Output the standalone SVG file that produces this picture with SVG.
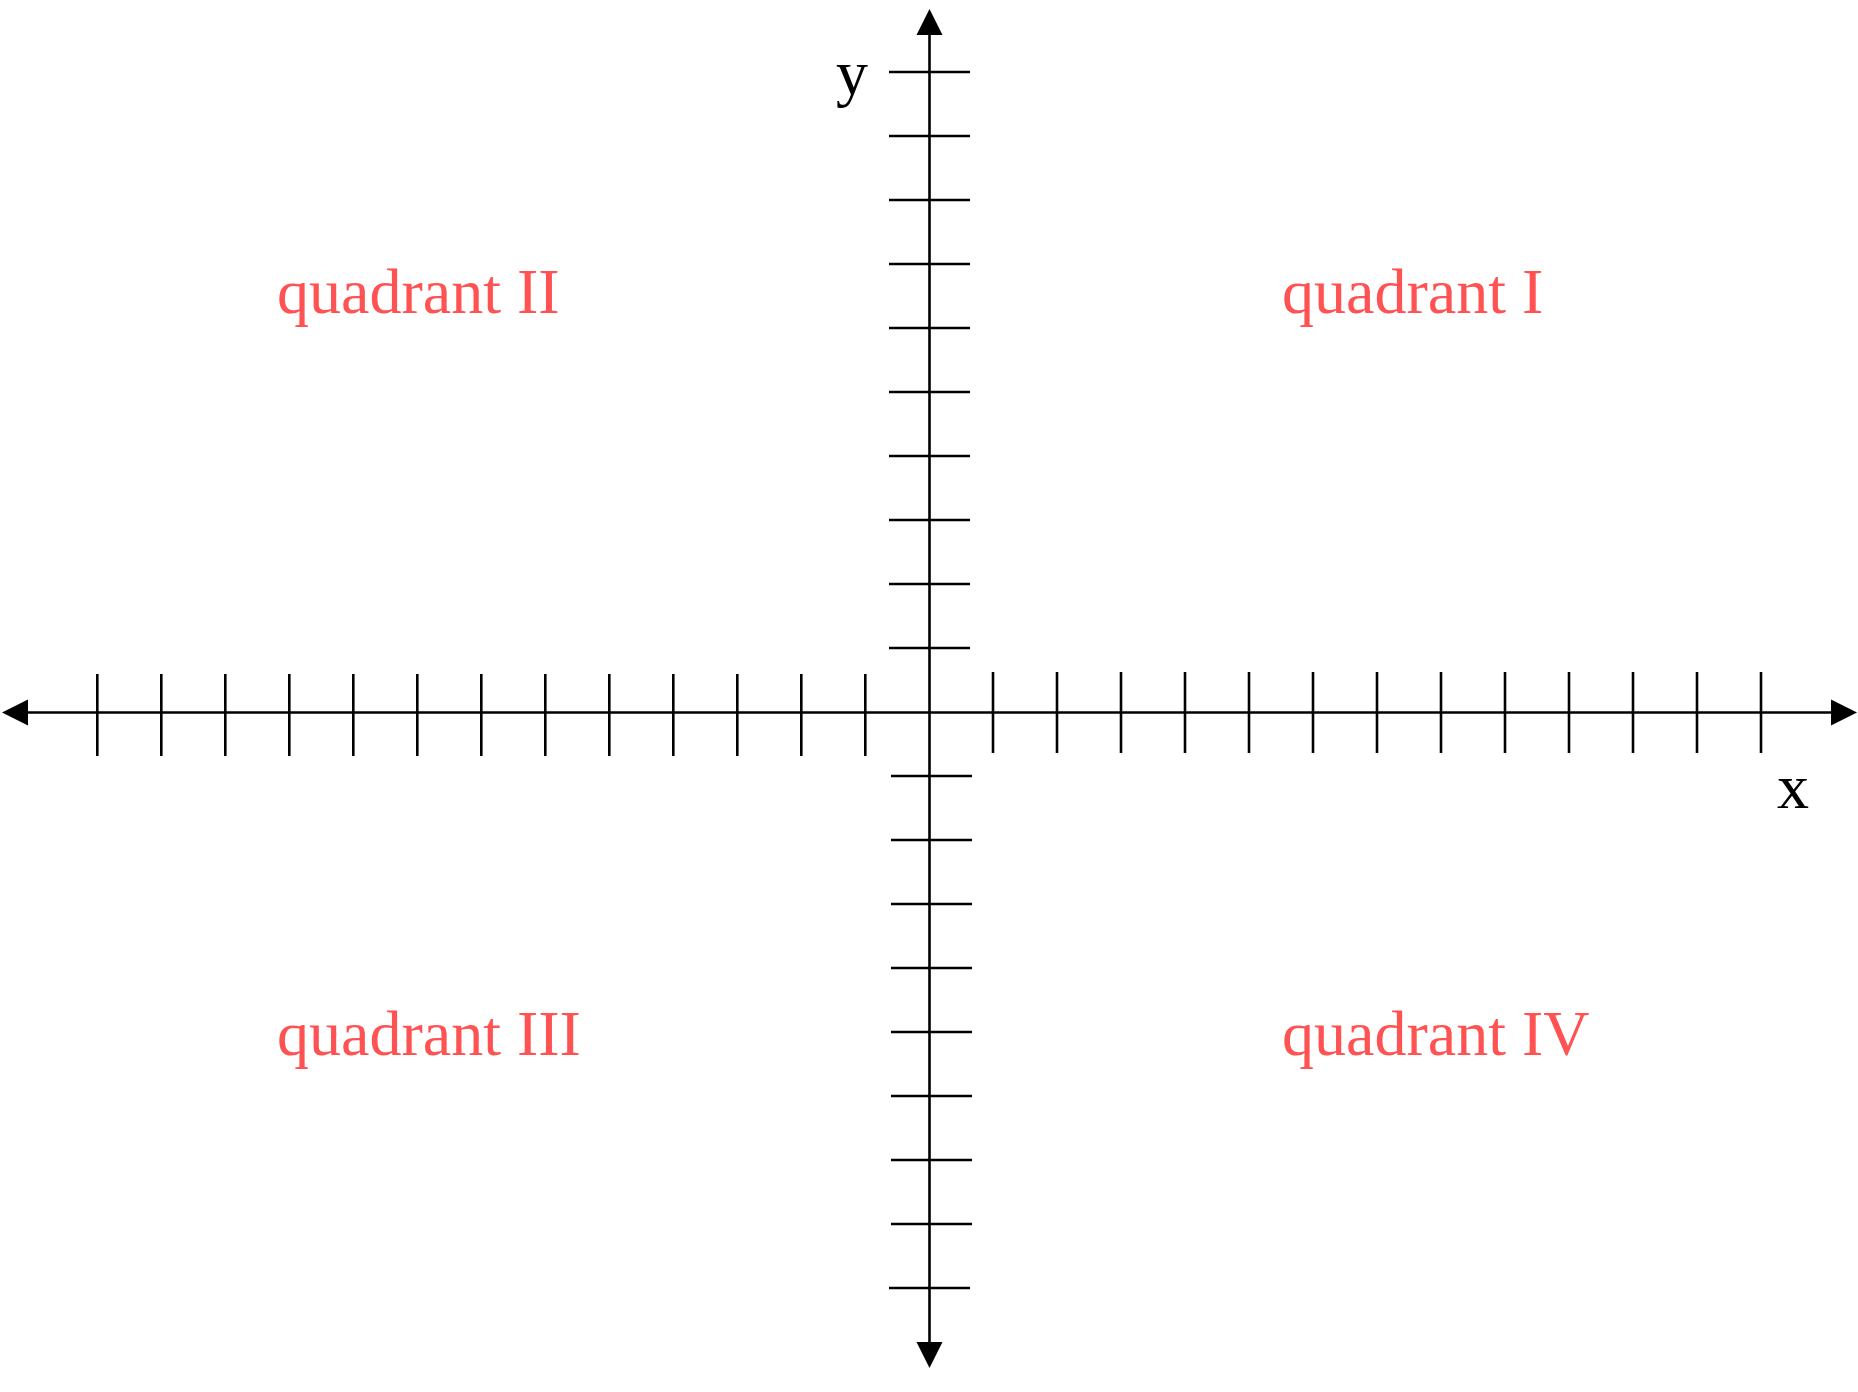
<svg xmlns="http://www.w3.org/2000/svg" width="1858" height="1392" viewBox="0 0 1858 1392">
<style>
.ax{stroke:#000;stroke-width:2.6;fill:none}
.tk{stroke:#000;stroke-width:2.6}
.q{font-family:"Liberation Serif","Times New Roman",serif;font-size:64px;fill:#ff5252}
.lbl{font-family:"Liberation Serif","Times New Roman",serif;font-size:64px;fill:#000}
</style>
<rect width="1858" height="1392" fill="#fff"/>
<g id="axes">
<line class="ax" x1="26" y1="712.5" x2="1833" y2="712.5"/>
<line class="ax" x1="929.5" y1="33" x2="929.5" y2="1345"/>
<polygon points="2,712.5 28,699.5 28,725.5" fill="#000"/>
<polygon points="1857,712.5 1831,699.5 1831,725.5" fill="#000"/>
<polygon points="929.5,9 916.5,35 942.5,35" fill="#000"/>
<polygon points="929.5,1368 916.5,1342 942.5,1342" fill="#000"/>
</g>
<g id="xticks-neg">
<line class="tk" x1="97.3" y1="674" x2="97.3" y2="756"/>
<line class="tk" x1="161.3" y1="674" x2="161.3" y2="756"/>
<line class="tk" x1="225.3" y1="674" x2="225.3" y2="756"/>
<line class="tk" x1="289.3" y1="674" x2="289.3" y2="756"/>
<line class="tk" x1="353.3" y1="674" x2="353.3" y2="756"/>
<line class="tk" x1="417.3" y1="674" x2="417.3" y2="756"/>
<line class="tk" x1="481.3" y1="674" x2="481.3" y2="756"/>
<line class="tk" x1="545.3" y1="674" x2="545.3" y2="756"/>
<line class="tk" x1="609.3" y1="674" x2="609.3" y2="756"/>
<line class="tk" x1="673.3" y1="674" x2="673.3" y2="756"/>
<line class="tk" x1="737.3" y1="674" x2="737.3" y2="756"/>
<line class="tk" x1="801.3" y1="674" x2="801.3" y2="756"/>
<line class="tk" x1="865.3" y1="674" x2="865.3" y2="756"/>
</g>
<g id="xticks-pos">
<line class="tk" x1="993" y1="672" x2="993" y2="753"/>
<line class="tk" x1="1057" y1="672" x2="1057" y2="753"/>
<line class="tk" x1="1121" y1="672" x2="1121" y2="753"/>
<line class="tk" x1="1185" y1="672" x2="1185" y2="753"/>
<line class="tk" x1="1249" y1="672" x2="1249" y2="753"/>
<line class="tk" x1="1313" y1="672" x2="1313" y2="753"/>
<line class="tk" x1="1377" y1="672" x2="1377" y2="753"/>
<line class="tk" x1="1441" y1="672" x2="1441" y2="753"/>
<line class="tk" x1="1505" y1="672" x2="1505" y2="753"/>
<line class="tk" x1="1569" y1="672" x2="1569" y2="753"/>
<line class="tk" x1="1633" y1="672" x2="1633" y2="753"/>
<line class="tk" x1="1697" y1="672" x2="1697" y2="753"/>
<line class="tk" x1="1761" y1="672" x2="1761" y2="753"/>
</g>
<g id="yticks-pos">
<line class="tk" x1="889" y1="72" x2="970" y2="72"/>
<line class="tk" x1="889" y1="136" x2="970" y2="136"/>
<line class="tk" x1="889" y1="200" x2="970" y2="200"/>
<line class="tk" x1="889" y1="264" x2="970" y2="264"/>
<line class="tk" x1="889" y1="328" x2="970" y2="328"/>
<line class="tk" x1="889" y1="392" x2="970" y2="392"/>
<line class="tk" x1="889" y1="456" x2="970" y2="456"/>
<line class="tk" x1="889" y1="520" x2="970" y2="520"/>
<line class="tk" x1="889" y1="584" x2="970" y2="584"/>
<line class="tk" x1="889" y1="648" x2="970" y2="648"/>
</g>
<g id="yticks-neg">
<line class="tk" x1="891" y1="776" x2="972" y2="776"/>
<line class="tk" x1="891" y1="840" x2="972" y2="840"/>
<line class="tk" x1="891" y1="904" x2="972" y2="904"/>
<line class="tk" x1="891" y1="968" x2="972" y2="968"/>
<line class="tk" x1="891" y1="1032" x2="972" y2="1032"/>
<line class="tk" x1="891" y1="1096" x2="972" y2="1096"/>
<line class="tk" x1="891" y1="1160" x2="972" y2="1160"/>
<line class="tk" x1="891" y1="1224" x2="972" y2="1224"/>
<line class="tk" x1="889" y1="1288" x2="970" y2="1288"/>
</g>
<g id="labels">
<text class="lbl" x="836" y="94">y</text>
<text class="lbl" x="1777" y="808">x</text>
</g>
<g id="quadrants">
<text class="q" x="277" y="313">quadrant II</text>
<text class="q" x="1282" y="313">quadrant I</text>
<text class="q" x="277" y="1055">quadrant III</text>
<text class="q" x="1282" y="1055">quadrant IV</text>
</g>
</svg>
